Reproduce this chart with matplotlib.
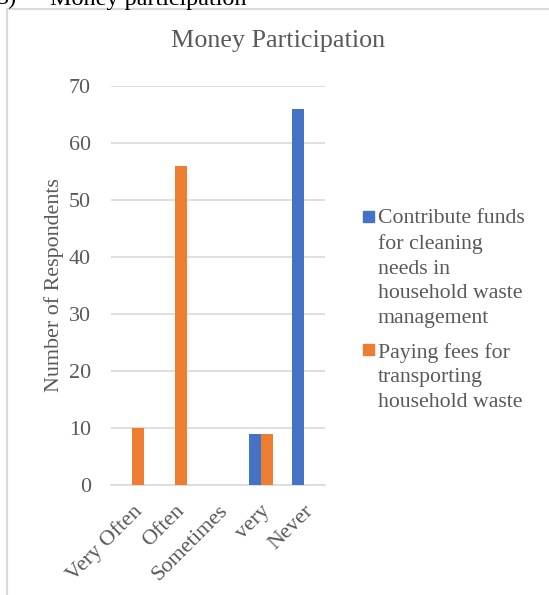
import numpy as np
import matplotlib
import matplotlib.pyplot as plt
from matplotlib.patches import Rectangle

matplotlib.use('Agg')
plt.rcParams['font.family'] = ['Liberation Serif', 'DejaVu Serif']

# survey answers
categories = ["Very Often", "Often", "Sometimes", "very", "Never"]
series_names = [
    "Contribute funds\nfor cleaning\nneeds in\nhousehold waste\nmanagement",
    "Paying fees for\ntransporting\nhousehold waste",
]
contribute_funds = [0, 0, 0, 9, 66]
paying_fees = [10, 56, 0, 9, 0]
series_colors = ["#4472C4", "#ED7D31"]
y_ticks = [0, 10, 20, 30, 40, 50, 60, 70]

text_gray = "#595959"
grid_gray = "#D9D9D9"

W, H = 549, 595
fig = plt.figure(figsize=(W / 100, H / 100), dpi=100)

# chart frame border
fig.add_artist(plt.Line2D([7 / W, 7 / W], [0, 1 - 8.5 / H], color=grid_gray, lw=1.5))
fig.add_artist(plt.Line2D([7 / W, 1], [1 - 8.5 / H, 1 - 8.5 / H], color=grid_gray, lw=1.5))

# caption line above the chart, mostly cut off
fig.text(-3 / W, 1 - 4.5 / H, "5)", fontsize=17.4, color="black", va="baseline")
fig.text(50 / W, 1 - 4.5 / H, "Money participation", fontsize=17.4, color="black", va="baseline")

ax = fig.add_axes([111 / W, 1 - 485 / H, 214 / W, 399 / H])
x = np.arange(len(categories))
bw = 0.28
ax.bar(x - bw / 2, contribute_funds, bw, color=series_colors[0], zorder=3)
ax.bar(x + bw / 2, paying_fees, bw, color=series_colors[1], zorder=3)

ax.set_xlim(-0.5, len(categories) - 0.5)
ax.set_ylim(0, 70)
ax.set_yticks(y_ticks)
ax.yaxis.grid(True, color=grid_gray, lw=1.2, zorder=0)
for s in ["top", "right", "left"]:
    ax.spines[s].set_visible(False)
ax.spines["bottom"].set_color(grid_gray)
ax.spines["bottom"].set_linewidth(1.2)
ax.tick_params(length=0, labelsize=15.8, colors=text_gray)
ax.tick_params(axis="y", pad=14.5)
ax.set_xticks(x)
ax.set_xticklabels(categories, rotation=45, ha="right", va="top",
                   rotation_mode="anchor", fontsize=16, color=text_gray)
ax.tick_params(axis="x", pad=12)
ax.set_ylabel("Number of Respondents", fontsize=15.8, color=text_gray, labelpad=3.5)

fig.text(278 / W, 1 - 47 / H, "Money Participation", fontsize=18.8, color=text_gray,
         ha="center", va="baseline")

# legend: marker sits on the first line, text anchored on its last baseline
legend_first = [222, 355]
legend_last = [323, 407]
for name, color, yb, yl in zip(series_names, series_colors, legend_first, legend_last):
    fig.add_artist(Rectangle((363 / W, 1 - yb / H), 11 / W, 11 / H,
                             color=color, transform=fig.transFigure))
    fig.text(378 / W, 1 - yl / H, name, fontsize=15.7, color=text_gray,
             ha="left", va="baseline", linespacing=1.40)

fig.savefig("out.png", dpi=100)
